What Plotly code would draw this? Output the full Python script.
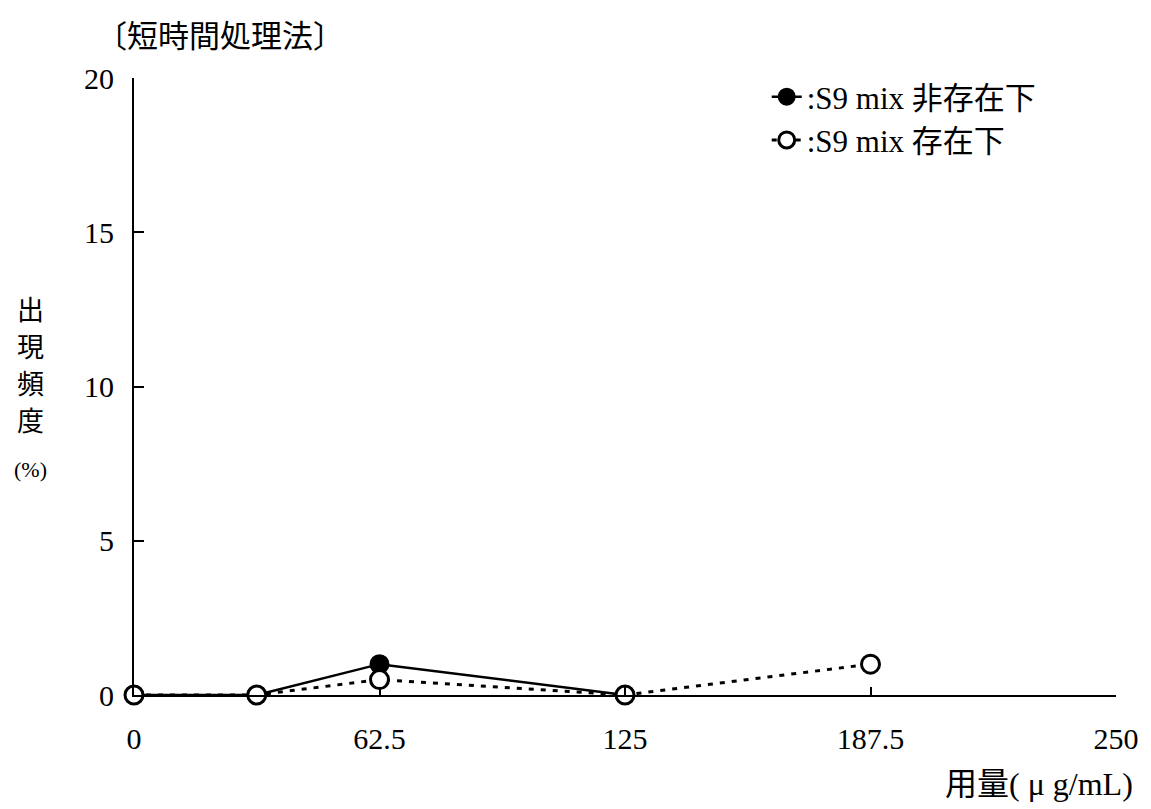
import plotly.graph_objects as go

dose = [0, 31.25, 62.5, 125, 187.5]
without_s9 = [0, 0, 1.0, 0]
with_s9 = [0, 0, 0.5, 0, 1.0]
x_ticks = [0, 62.5, 125, 187.5, 250]
x_tick_labels = ["0", "62.5", "125", "187.5", "250"]
y_ticks = [0, 5, 10, 15, 20]
y_title_chars = ["出", "現", "頻", "度"]

SERIF = "Liberation Serif, Noto Sans CJK JP"
JP = "Noto Sans CJK JP"

# page body has an 8px margin, so the figure is drawn 8px smaller and offset
OFF = 8
W, H = 1151 - OFF, 809 - OFF
L, R, T, B = 134 - OFF, 1151 - 1118, 78 - OFF, 809 - 695
pw, ph = W - L - R, H - T - B


def px(xr):
    return (xr - OFF - L) / pw


def py(yr):
    return (H - B - (yr - OFF)) / ph


fig = go.Figure()
fig.add_trace(go.Scatter(
    x=dose[:4], y=without_s9, mode="lines+markers",
    name=":S9 mix 非存在下",
    line=dict(color="black", width=2.5),
    marker=dict(symbol="circle", size=18, color="black", line=dict(color="black", width=2)),
    cliponaxis=False,
))
fig.add_trace(go.Scatter(
    x=dose, y=with_s9, mode="lines+markers",
    name=":S9 mix 存在下",
    line=dict(color="black", width=3, dash="5px,7px"),
    marker=dict(symbol="circle", size=18, color="white", line=dict(color="black", width=3)),
    cliponaxis=False,
))

annotations = [
    dict(text="〔短時間処理法〕", x=px(220), y=py(33), xanchor="center", yanchor="middle",
         font=dict(family=JP, size=31)),
    dict(text="(%)", x=px(30), y=py(469), xanchor="center", yanchor="middle",
         font=dict(family=SERIF, size=22)),
    dict(text="用量( μ g/mL)", x=px(1137), y=py(784), xanchor="right", yanchor="middle",
         font=dict(family=SERIF, size=32)),
]
for i, ch in enumerate(y_title_chars):
    annotations.append(dict(text=ch, x=px(30), y=py(308 + 37 * i), xanchor="center",
                            yanchor="middle", font=dict(family=JP, size=27)))
for a in annotations:
    a.update(xref="paper", yref="paper", showarrow=False)

fig.update_layout(
    width=W, height=H,
    margin=dict(l=L, r=R, t=T, b=B),
    paper_bgcolor="white", plot_bgcolor="white",
    font=dict(family=SERIF, size=30, color="black"),
    showlegend=True,
    legend=dict(x=px(768), y=py(70), xanchor="left", yanchor="top",
                bgcolor="rgba(0,0,0,0)", font=dict(family=SERIF, size=31),
                tracegroupgap=0),
    xaxis=dict(range=[0, 250], tickvals=x_ticks, ticktext=x_tick_labels,
               showgrid=False, zeroline=False, showline=True, linecolor="black",
               linewidth=2, ticks="inside", ticklen=8, tickwidth=1.5, tickcolor="black",
               ticklabelstandoff=16, tickfont=dict(family=SERIF, size=30)),
    yaxis=dict(range=[0, 20], tickvals=y_ticks, showgrid=False, zeroline=False,
               showline=True, linecolor="black", linewidth=2, ticks="inside",
               ticklen=10, tickwidth=1.5, tickcolor="black", ticklabelstandoff=12,
               tickfont=dict(family=SERIF, size=30)),
    annotations=annotations,
)

fig.write_html("out.html")
